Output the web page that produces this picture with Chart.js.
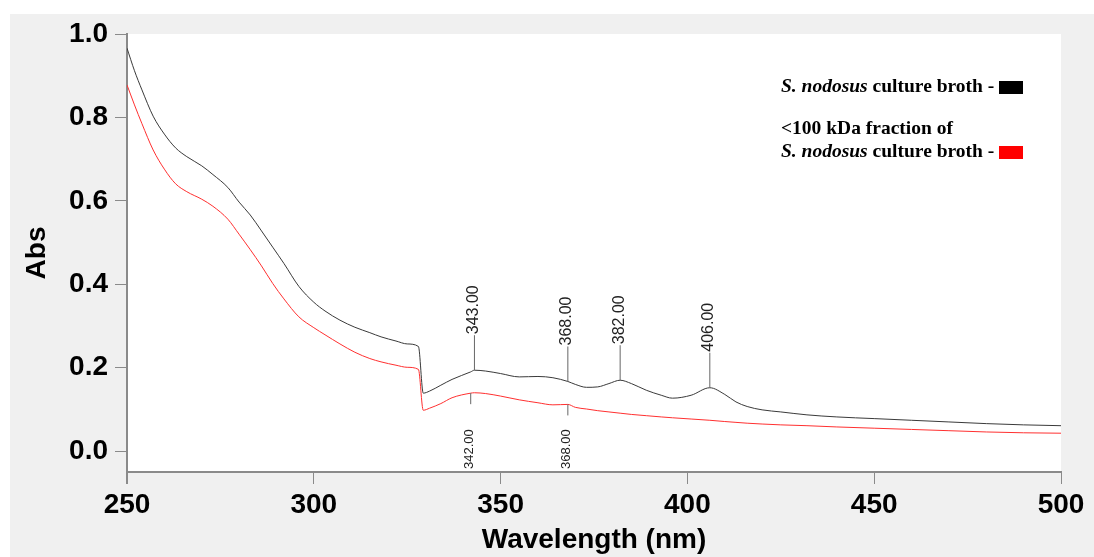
<!DOCTYPE html>
<html>
<head>
<meta charset="utf-8">
<script src="https://cdn.jsdelivr.net/npm/chart.js@4.4.1/dist/chart.umd.min.js"></script>
<style>
  body { margin: 0; background: #fff; }
  #wrap { width: 1094px; height: 557px; }
</style>
</head>
<body>
<div id="wrap"><canvas id="myChart"></canvas></div>
<script>
// wavelengths (nm) and absorbance
const wavelengths = [250, 252, 254, 257, 260, 263, 266, 270, 273, 277, 280, 283, 286, 289, 292, 296,
  300, 303, 307, 311, 315, 318, 322, 325, 328, 329.3, 331, 334, 337, 342, 343, 346, 350, 355, 360,
  364, 368, 370, 373, 376, 379, 382, 385, 389, 393, 396, 401, 406, 410, 413, 416, 420, 425, 432,
  440, 450, 460, 470, 480, 490, 500];
const brothAbs = [0.966, 0.912, 0.866, 0.803, 0.760, 0.727, 0.706, 0.684, 0.663, 0.632, 0.597, 0.566,
  0.528, 0.489, 0.450, 0.395, 0.357, 0.336, 0.314, 0.297, 0.284, 0.274, 0.264, 0.257, 0.251, 0.139,
  0.144, 0.158, 0.172, 0.190, 0.194, 0.192, 0.186, 0.178, 0.179, 0.176, 0.167, 0.160, 0.153, 0.154,
  0.162, 0.170, 0.162, 0.146, 0.134, 0.127, 0.134, 0.152, 0.136, 0.118, 0.107, 0.099, 0.094, 0.087,
  0.082, 0.078, 0.074, 0.070, 0.066, 0.063, 0.061];
const fractionAbs = [0.878, 0.830, 0.785, 0.722, 0.676, 0.641, 0.622, 0.604, 0.587, 0.556, 0.520, 0.483,
  0.444, 0.402, 0.365, 0.322, 0.296, 0.279, 0.257, 0.237, 0.222, 0.214, 0.206, 0.201, 0.196, 0.098,
  0.103, 0.114, 0.128, 0.139, 0.140, 0.138, 0.132, 0.123, 0.116, 0.111, 0.112, 0.105, 0.101, 0.097,
  0.094, 0.091, 0.088, 0.085, 0.082, 0.080, 0.077, 0.074, 0.071, 0.069, 0.067, 0.065, 0.063, 0.061,
  0.058, 0.055, 0.052, 0.049, 0.046, 0.044, 0.043];

const xTicks = [250, 300, 350, 400, 450, 500];
const yTicks = [0.0, 0.2, 0.4, 0.6, 0.8, 1.0];
const brothPeaks = [343, 368, 382, 406];
const fractionPeaks = [342, 368];

const axisGray = '#8a8a8a';
const boldFont = (size) => ({ family: '"Liberation Sans", Arial, sans-serif', weight: 'bold', size: size });

function valueAt(arr, nm) {
  return arr[wavelengths.indexOf(nm)];
}

const backdrop = {
  id: 'backdrop',
  beforeDraw(chart) {
    const { ctx, chartArea: a } = chart;
    ctx.save();
    ctx.fillStyle = '#fff';
    ctx.fillRect(0, 0, chart.width, chart.height);
    ctx.fillStyle = '#f0f0f0';
    ctx.fillRect(10, 14, chart.width - 10, chart.height - 14);
    ctx.fillStyle = '#fff';
    ctx.fillRect(a.left, a.top, a.right - a.left, a.bottom - a.top);
    ctx.restore();
  },
  afterDraw(chart) {
    // y axis line runs a little below the x axis
    const { ctx, chartArea: a } = chart;
    ctx.save();
    ctx.strokeStyle = axisGray;
    ctx.lineWidth = 2;
    ctx.beginPath();
    ctx.moveTo(a.left, a.bottom);
    ctx.lineTo(a.left, a.bottom + 12);
    ctx.stroke();
    ctx.restore();
  }
};

const peakLabels = {
  id: 'peakLabels',
  afterDatasetsDraw(chart) {
    const { ctx, scales: { x, y }, chartArea: a } = chart;
    ctx.save();
    ctx.strokeStyle = '#666';
    ctx.lineWidth = 1;
    ctx.fillStyle = '#222';
    brothPeaks.forEach(nm => {
      const px = x.getPixelForValue(nm);
      const py = y.getPixelForValue(valueAt(brothAbs, nm));
      ctx.beginPath();
      ctx.moveTo(px, py);
      ctx.lineTo(px, py - 35);
      ctx.stroke();
      ctx.save();
      ctx.translate(px - 1, py - 36);
      ctx.rotate(-Math.PI / 2);
      ctx.font = '16px "Liberation Sans", Arial, sans-serif';
      ctx.textAlign = 'left';
      ctx.textBaseline = 'middle';
      ctx.fillText(nm.toFixed(2), 0, 0);
      ctx.restore();
    });
    fractionPeaks.forEach(nm => {
      const px = x.getPixelForValue(nm);
      const py = y.getPixelForValue(valueAt(fractionAbs, nm));
      ctx.beginPath();
      ctx.moveTo(px, py);
      ctx.lineTo(px, py + 11);
      ctx.stroke();
      ctx.save();
      ctx.translate(px - 1, a.bottom - 3);
      ctx.rotate(-Math.PI / 2);
      ctx.font = '13px "Liberation Sans", Arial, sans-serif';
      ctx.textAlign = 'left';
      ctx.textBaseline = 'middle';
      ctx.fillText(nm.toFixed(2), 0, 0);
      ctx.restore();
    });
    ctx.restore();
  }
};

const legendBox = {
  id: 'legendBox',
  afterDraw(chart) {
    const ctx = chart.ctx;
    const italic = 'bold italic 19.5px "Liberation Serif", "Times New Roman", serif';
    const plain = 'bold 19.5px "Liberation Serif", "Times New Roman", serif';
    ctx.save();
    ctx.fillStyle = '#000';
    ctx.textBaseline = 'alphabetic';
    const entry = (baseline, color) => {
      let xx = 781;
      ctx.font = italic;
      ctx.fillStyle = '#000';
      ctx.fillText('S. nodosus', xx, baseline);
      xx += ctx.measureText('S. nodosus').width;
      ctx.font = plain;
      ctx.fillText(' culture broth - ', xx, baseline);
      ctx.fillStyle = color;
      ctx.fillRect(999, baseline - 11, 24, 13);
    };
    entry(92, '#000');
    ctx.font = plain;
    ctx.fillStyle = '#000';
    ctx.fillText('<100 kDa fraction of', 781, 134);
    entry(157, '#ff0000');
    ctx.restore();
  }
};

new Chart(document.getElementById('myChart'), {
  type: 'line',
  data: {
    datasets: [{
      label: 'S. nodosus culture broth',
      data: wavelengths.map((w, i) => ({ x: w, y: brothAbs[i] })),
      borderColor: '#3a3a3a',
      borderWidth: 1,
      pointRadius: 0,
      cubicInterpolationMode: 'monotone'
    }, {
      label: '<100 kDa fraction of S. nodosus culture broth',
      data: wavelengths.map((w, i) => ({ x: w, y: fractionAbs[i] })),
      borderColor: '#ff3030',
      borderWidth: 1,
      pointRadius: 0,
      cubicInterpolationMode: 'monotone'
    }]
  },
  options: {
    responsive: true,
    maintainAspectRatio: false,
    animation: false,
    layout: { padding: { left: 0, top: 34, right: 33, bottom: 0 } },
    plugins: { legend: { display: false }, tooltip: { enabled: false } },
    scales: {
      x: {
        type: 'linear',
        min: 250,
        max: 500,
        afterBuildTicks: s => { s.ticks = xTicks.map(v => ({ value: v })); },
        afterFit: s => { s.height = 85; },
        border: { display: true, color: axisGray, width: 2 },
        grid: { drawOnChartArea: false, drawTicks: true, tickLength: 12, color: axisGray, lineWidth: 1 },
        ticks: { font: boldFont(28), color: '#000', padding: 4, maxRotation: 0 },
        title: { display: true, text: 'Wavelength (nm)', font: boldFont(28), color: '#000', padding: { top: 0, bottom: 0 } }
      },
      y: {
        min: -0.05,
        max: 1.0,
        afterBuildTicks: s => { s.ticks = yTicks.map(v => ({ value: v })); },
        afterFit: s => { s.width = 127; },
        border: { display: true, color: axisGray, width: 2 },
        grid: { drawOnChartArea: false, drawTicks: true, tickLength: 12, color: axisGray, lineWidth: 1 },
        ticks: { font: boldFont(28), color: '#000', padding: 7, callback: v => v.toFixed(1) },
        title: { display: true, text: 'Abs', font: boldFont(28), color: '#000', padding: { top: 20, bottom: 0 } }
      }
    }
  },
  plugins: [backdrop, peakLabels, legendBox]
});
</script>
</body>
</html>
